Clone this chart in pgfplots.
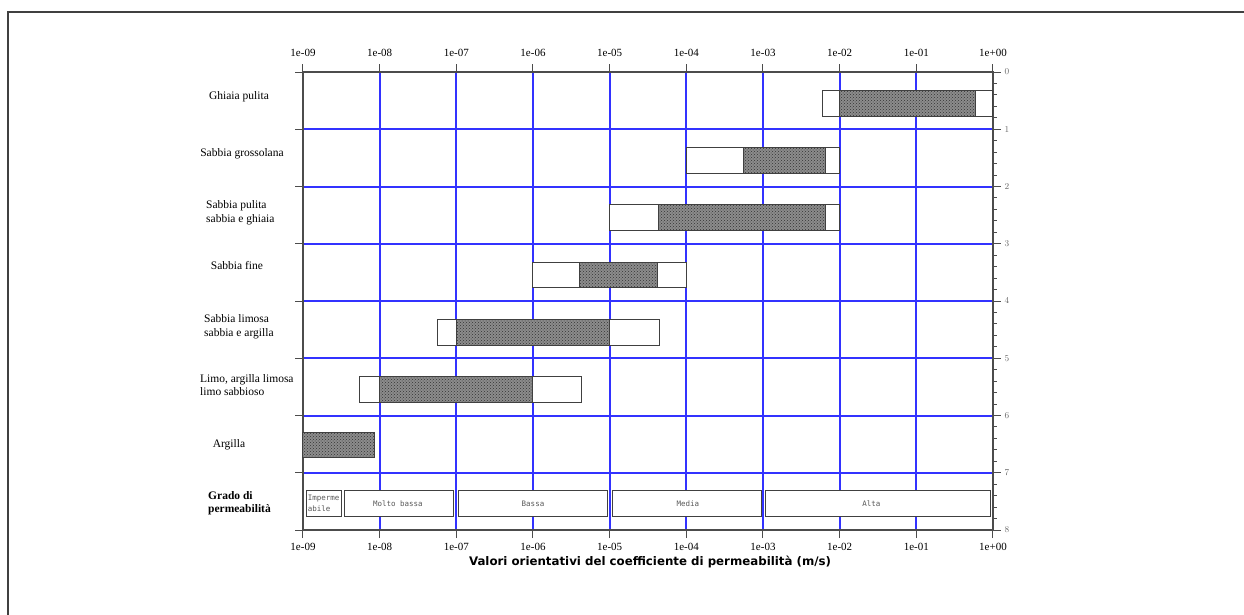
\documentclass[border=0pt]{standalone}
\usepackage{pgfplots}
\pgfplotsset{compat=1.18}
\usepackage{fontspec}
\setmainfont{Liberation Serif}
\setmonofont{DejaVu Sans Mono}
\newfontfamily\dejavu{DejaVu Sans}
\usetikzlibrary{patterns}
\definecolor{gridblue}{RGB}{50,50,255}
\begin{document}
\begin{tikzpicture}[x=1pt,y=1pt]
\path[use as bounding box] (0,0) rectangle (1244,615);
\draw[black!75, line width=1.5pt] (8,0) -- (8,603) -- (1244,603);
\pgfplotsset{
  outerbox/.style={draw=black!75, line width=1pt, fill=white},
  innerbox/.style={draw=black!75, line width=1pt, fill=black!45, postaction={pattern=crosshatch dots, pattern color=black!80}},
  permbox/.style={draw=black!75, line width=1pt, fill=white},
}
\begin{axis}[
  at={(303pt,85pt)}, anchor=south west,
  scale only axis, width=690pt, height=458pt,
  xmode=log, log basis x=10,
  xmin=1e-9, xmax=1, ymin=0, ymax=8, y dir=reverse,
  xtick={1e-9,1e-8,1e-7,1e-6,1e-5,1e-4,1e-3,1e-2,1e-1,1},
  xticklabels={1e-09,1e-08,1e-07,1e-06,1e-05,1e-04,1e-03,1e-02,1e-01,1e+00},
  xtick pos=both, xticklabel pos=left,
  ytick={0,1,...,8}, ytick pos=left, yticklabels={},
  tick align=outside, major tick length=8pt,
  tick style={draw=black!70, line width=1pt},
  grid=major, major grid style={draw=gridblue, line width=2pt},
  axis line style={draw=black!70, line width=1.4pt},
  xticklabel style={font=\fontsize{11}{12}\selectfont, yshift=-2pt},
  clip=false,
]
% Ghiaia pulita
\addplot[outerbox] coordinates {(6e-3,0.32) (1,0.32) (1,0.77) (6e-3,0.77)} -- cycle;
\addplot[innerbox] coordinates {(1e-2,0.32) (0.6,0.32) (0.6,0.77) (1e-2,0.77)} -- cycle;
% Sabbia grossolana
\addplot[outerbox] coordinates {(1e-4,1.32) (1e-2,1.32) (1e-2,1.77) (1e-4,1.77)} -- cycle;
\addplot[innerbox] coordinates {(5.5e-4,1.32) (6.5e-3,1.32) (6.5e-3,1.77) (5.5e-4,1.77)} -- cycle;
% Sabbia pulita
\addplot[outerbox] coordinates {(1e-5,2.32) (1e-2,2.32) (1e-2,2.77) (1e-5,2.77)} -- cycle;
\addplot[innerbox] coordinates {(4.4e-5,2.32) (6.5e-3,2.32) (6.5e-3,2.77) (4.4e-5,2.77)} -- cycle;
% Sabbia fine
\addplot[outerbox] coordinates {(1e-6,3.32) (1e-4,3.32) (1e-4,3.77) (1e-6,3.77)} -- cycle;
\addplot[innerbox] coordinates {(4e-6,3.32) (4.2e-5,3.32) (4.2e-5,3.77) (4e-6,3.77)} -- cycle;
% Sabbia limosa
\addplot[outerbox] coordinates {(5.7e-8,4.32) (4.5e-5,4.32) (4.5e-5,4.77) (5.7e-8,4.77)} -- cycle;
\addplot[innerbox] coordinates {(1e-7,4.32) (1e-5,4.32) (1e-5,4.77) (1e-7,4.77)} -- cycle;
% Limo
\addplot[outerbox] coordinates {(5.4e-9,5.32) (4.3e-6,5.32) (4.3e-6,5.77) (5.4e-9,5.77)} -- cycle;
\addplot[innerbox] coordinates {(1e-8,5.32) (1e-6,5.32) (1e-6,5.77) (1e-8,5.77)} -- cycle;
% Argilla
\addplot[innerbox] coordinates {(1e-9,6.30) (8.5e-9,6.30) (8.5e-9,6.73) (1e-9,6.73)} -- cycle;
% Grado di permeabilita
\addplot[permbox] coordinates {(1.1e-9,7.31) (3.16e-9,7.31) (3.16e-9,7.76) (1.1e-9,7.76)} -- cycle;
\addplot[permbox] coordinates {(3.47e-9,7.31) (9.3e-8,7.31) (9.3e-8,7.76) (3.47e-9,7.76)} -- cycle;
\addplot[permbox] coordinates {(1.07e-7,7.31) (9.4e-6,7.31) (9.4e-6,7.76) (1.07e-7,7.76)} -- cycle;
\addplot[permbox] coordinates {(1.08e-5,7.31) (9.6e-4,7.31) (9.6e-4,7.76) (1.08e-5,7.76)} -- cycle;
\addplot[permbox] coordinates {(1.08e-3,7.31) (0.93,7.31) (0.93,7.76) (1.08e-3,7.76)} -- cycle;
\begin{scope}[every node/.style={font=\ttfamily\fontsize{7.5}{8.5}\selectfont, text=black!65, inner sep=0pt}]
\node at (axis cs:1.73e-8,7.54) {Molto bassa};
\node at (axis cs:1e-6,7.54) {Bassa};
\node at (axis cs:1.05e-4,7.54) {Media};
\node at (axis cs:2.6e-2,7.54) {Alta};
\node[anchor=west] at (axis cs:1.15e-9,7.45) {Imperme};
\node[anchor=west] at (axis cs:1.15e-9,7.63) {abile};
\end{scope}
\end{axis}
\begin{axis}[
  at={(303pt,85pt)}, anchor=south west,
  scale only axis, width=690pt, height=458pt,
  xmode=log, log basis x=10,
  xmin=1e-9, xmax=1, ymin=0, ymax=8, y dir=reverse,
  axis line style={draw=none},
  xtick={1e-9,1e-8,1e-7,1e-6,1e-5,1e-4,1e-3,1e-2,1e-1,1},
  xticklabels={1e-09,1e-08,1e-07,1e-06,1e-05,1e-04,1e-03,1e-02,1e-01,1e+00},
  xtick pos=right, xticklabel pos=right,
  ytick={0,1,...,8}, ytick pos=right, yticklabel pos=right, minor y tick num=4,
  tick align=outside, major tick length=8pt, minor tick length=4pt,
  tick style={draw=black!70, line width=1pt},
  xticklabel style={font=\fontsize{11}{12}\selectfont, yshift=4pt},
  yticklabel style={font=\dejavu\fontsize{9}{10}\selectfont, text=black!60},
]
\addplot[draw=none] coordinates {(1e-9,0)};
\end{axis}
\begin{scope}[every node/.style={font=\fontsize{11.5}{13.5}\selectfont, inner sep=0pt, align=left}]
\node at (239,518) {Ghiaia pulita};
\node at (242,461) {Sabbia grossolana};
\node[anchor=west] at (206,402) {Sabbia pulita\\sabbia e ghiaia};
\node at (237,349) {Sabbia fine};
\node[anchor=west] at (204,288) {Sabbia limosa\\sabbia e argilla};
\node[anchor=west] at (200,230) {Limo, argilla limosa\\limo sabbioso};
\node at (229,170) {Argilla};
\node[anchor=west, font=\bfseries\fontsize{11.5}{13.5}\selectfont] at (208,112) {Grado di\\permeabilità};
\end{scope}
\node[font=\dejavu\bfseries\fontsize{11.8}{14}\selectfont, inner sep=0pt] at (650,53) {Valori orientativi del coefficiente di permeabilità (m/s)};
\end{tikzpicture}
\end{document}
